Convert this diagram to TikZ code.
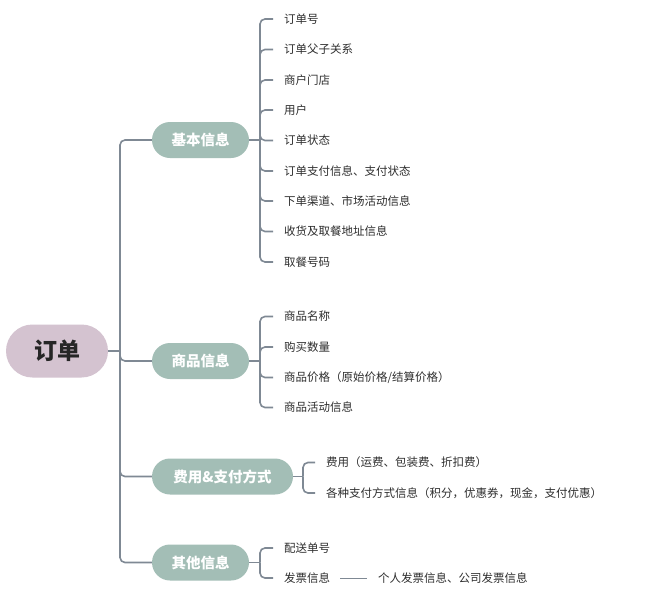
\documentclass[tikz,border=0pt]{standalone}
\usepackage{fontspec}
\setmainfont{Noto Sans CJK SC}
\definecolor{rootfill}{HTML}{D4C3D0}
\definecolor{brfill}{HTML}{A3BEB6}
\definecolor{linec}{HTML}{7F8994}
\definecolor{leaftxt}{HTML}{2E2E2E}
\begin{document}
\begin{tikzpicture}[x=1pt,y=-1pt,
  rootbox/.style={fill=rootfill, rounded corners=26.5pt, minimum width=102pt, minimum height=53pt, inner sep=0pt, font=\fontsize{23}{25}\selectfont\bfseries, text=black!85},
  brbox/.style={fill=brfill, rounded corners=18pt, minimum height=36pt, inner sep=0pt, font=\fontsize{14.5}{16}\selectfont\bfseries, text=white},
  leaf/.style={anchor=west, inner sep=0pt, font=\fontsize{11.5}{13}\selectfont, text=leaftxt},
  conn/.style={draw=linec, line width=1.6pt, rounded corners=5pt},
  lconn/.style={conn, shorten >=11pt}]
\useasboundingbox (0,0) rectangle (650,597);
\fill[white] (0,0) rectangle (650,597);
% root
\node[rootbox] (root) at (57,351) {订单};
% branches
\node[brbox, minimum width=97pt] (b1) at (200.5,140) {基本信息};
\node[brbox, minimum width=97pt] (b2) at (200.5,361) {商品信息};
\node[brbox, minimum width=141pt] (b3) at (222.5,476.5) {费用\&支付方式};
\node[brbox, minimum width=97pt] (b4) at (200.5,562.5) {其他信息};
% junctions
\coordinate (j0) at (120,351);
\coordinate (j1) at (260,140);
\coordinate (j2) at (260,361);
\coordinate (j3) at (303,476.5);
\coordinate (j4) at (260,562.5);
% trunk
\draw[conn] (root.east) -- (j0);
\foreach \b in {b1,b2,b3,b4}{
  \draw[conn] (j0) |- (\b.west);
}
% leaves of b1
\node[leaf] (l11) at (284,19) {订单号};
\node[leaf] (l12) at (284,49.5) {订单父子关系};
\node[leaf] (l13) at (284,80) {商户门店};
\node[leaf] (l14) at (284,110) {用户};
\node[leaf] (l15) at (284,140.5) {订单状态};
\node[leaf] (l16) at (284,171) {订单支付信息、支付状态};
\node[leaf] (l17) at (284,201) {下单渠道、市场活动信息};
\node[leaf] (l18) at (284,231.5) {收货及取餐地址信息};
\node[leaf] (l19) at (284,262) {取餐号码};
\draw[conn] (b1.east) -- (j1);
\foreach \l in {l11,l12,l13,l14,l15,l16,l17,l18,l19}{
  \draw[lconn] (j1) |- (\l.west);
}
% leaves of b2
\node[leaf] (l21) at (284,316.5) {商品名称};
\node[leaf] (l22) at (284,347) {购买数量};
\node[leaf] (l23) at (284,377.5) {商品价格（原始价格/结算价格）};
\node[leaf] (l24) at (284,407.5) {商品活动信息};
\draw[conn] (b2.east) -- (j2);
\foreach \l in {l21,l22,l23,l24}{
  \draw[lconn] (j2) |- (\l.west);
}
% leaves of b3
\node[leaf] (l31) at (326,462.5) {费用（运费、包装费、折扣费）};
\node[leaf] (l32) at (326,493) {各种支付方式信息（积分，优惠券，现金，支付优惠）};
\draw[conn] (b3.east) -- (j3);
\foreach \l in {l31,l32}{
  \draw[lconn] (j3) |- (\l.west);
}
% leaves of b4
\node[leaf] (l41) at (284,548) {配送单号};
\node[leaf] (l42) at (284,578) {发票信息};
\draw[conn] (b4.east) -- (j4);
\foreach \l in {l41,l42}{
  \draw[lconn] (j4) |- (\l.west);
}
\node[leaf] (l43) at (378,578) {个人发票信息、公司发票信息};
\draw[draw=linec, line width=1pt, shorten <=10pt, shorten >=11pt] (l42.east) -- (l43.west);
\end{tikzpicture}
\end{document}
